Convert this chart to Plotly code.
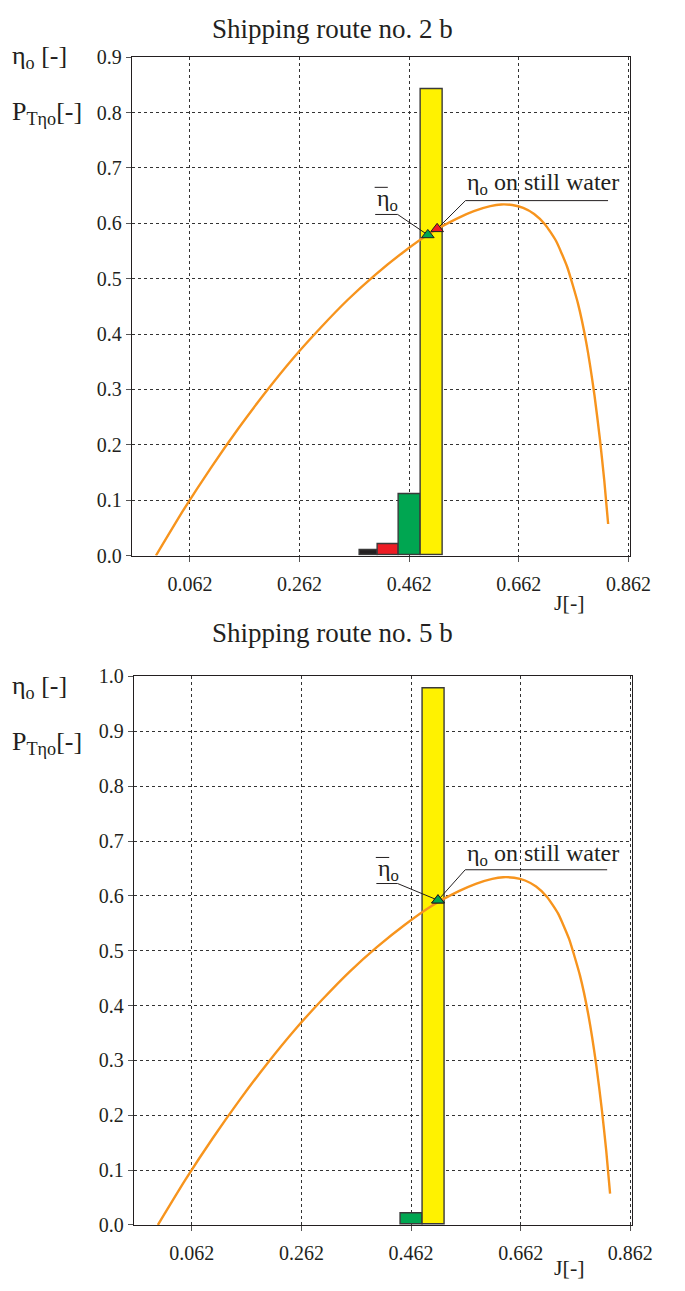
import plotly.graph_objects as go

# ---------------- data ----------------
J_curve = [0.0, 0.05, 0.10, 0.15, 0.20, 0.25, 0.30, 0.35, 0.40, 0.45, 0.50,
           0.55, 0.58, 0.61, 0.63, 0.65, 0.67, 0.69, 0.71, 0.73, 0.75,
           0.77, 0.785, 0.80, 0.81, 0.818, 0.825]
eta_curve = [0.0, 0.082, 0.158, 0.229, 0.295, 0.356, 0.411, 0.462, 0.507, 0.547, 0.582,
             0.609, 0.622, 0.631, 0.634, 0.633, 0.628, 0.617, 0.598, 0.568, 0.522,
             0.455, 0.385, 0.290, 0.210, 0.135, 0.057]

bin_edges = [0.372, 0.405, 0.444, 0.483, 0.524]
bar_colors = ["#231F20", "#ED1C24", "#00A651", "#FFF200"]
p_route2 = [0.009, 0.021, 0.110, 0.843]
p_route5 = [0.0, 0.0, 0.021, 0.978]

mean_route2 = (0.496, 0.579)
still_route2 = (0.513, 0.590)
mean_route5 = (0.511, 0.592)
still_route5 = (0.511, 0.592)

x_ticks = [0.062, 0.262, 0.462, 0.662, 0.862]
y_ticks2 = [0.0, 0.1, 0.2, 0.3, 0.4, 0.5, 0.6, 0.7, 0.8, 0.9]
y_ticks5 = [0.0, 0.1, 0.2, 0.3, 0.4, 0.5, 0.6, 0.7, 0.8, 0.9, 1.0]

titles = ["Shipping route no. 2 b", "Shipping route no. 5 b"]

# ---------------- figure ----------------
FONT = "Liberation Serif"
INK = "#231F20"
W, H = 685, 1291
fig = go.Figure()

centers = [(bin_edges[i] + bin_edges[i + 1]) / 2 for i in range(len(bin_edges) - 1)]
widths = [bin_edges[i + 1] - bin_edges[i] for i in range(len(bin_edges) - 1)]


def add_panel(xa, ya, probs, mean_pt, still_pt, leaders):
    xs = [c for c, p in zip(centers, probs) if p > 0]
    ws = [w for w, p in zip(widths, probs) if p > 0]
    cs = [c for c, p in zip(bar_colors, probs) if p > 0]
    ps = [p for p in probs if p > 0]
    fig.add_trace(go.Bar(x=xs, y=ps, width=ws, xaxis=xa, yaxis=ya,
                         marker=dict(color=cs, line=dict(color="#3a3a3a", width=1.4)),
                         showlegend=False, hoverinfo="skip"))
    fig.add_trace(go.Scatter(x=J_curve, y=eta_curve, xaxis=xa, yaxis=ya, mode="lines",
                             line=dict(color="#F7941D", width=2.4, shape="spline", smoothing=0.5),
                             showlegend=False, hoverinfo="skip"))
    (mx0, mx1, my), (sx0, sx1, sy) = leaders
    fig.add_trace(go.Scatter(x=[mx0, mx1, mean_pt[0]], y=[my, my, mean_pt[1]], xaxis=xa, yaxis=ya,
                             mode="lines", line=dict(color=INK, width=1),
                             showlegend=False, hoverinfo="skip"))
    fig.add_trace(go.Scatter(x=[sx1, sx0, still_pt[0]], y=[sy, sy, still_pt[1]], xaxis=xa, yaxis=ya,
                             mode="lines", line=dict(color=INK, width=1),
                             showlegend=False, hoverinfo="skip"))
    fig.add_trace(go.Scatter(x=[still_pt[0]], y=[still_pt[1]], xaxis=xa, yaxis=ya, mode="markers",
                             marker=dict(symbol="triangle-up", size=11, color="#ED1C24",
                                         line=dict(color=INK, width=1)),
                             showlegend=False, hoverinfo="skip"))
    fig.add_trace(go.Scatter(x=[mean_pt[0]], y=[mean_pt[1]], xaxis=xa, yaxis=ya, mode="markers",
                             marker=dict(symbol="triangle-up", size=11, color="#00A651",
                                         line=dict(color=INK, width=1)),
                             showlegend=False, hoverinfo="skip"))


add_panel("x", "y", p_route2, mean_route2, still_route2,
          ((0.400, 0.441, 0.616), (0.5647, 0.8248, 0.641)))
add_panel("x2", "y2", p_route5, mean_route5, still_route5,
          ((0.3986, 0.4373, 0.6225), (0.5607, 0.8197, 0.6476)))

axis_common = dict(showline=True, mirror=True, linecolor=INK, linewidth=1,
                   showgrid=True, gridcolor="#333", griddash="dot", gridwidth=1,
                   zeroline=False, ticks="outside", ticklen=5, tickcolor="#555",
                   tickfont=dict(family=FONT, size=20, color=INK))

xr = [-0.044, 0.865]
fig.update_layout(
    width=W, height=H, margin=dict(l=0, r=0, t=0, b=0),
    font=dict(family=FONT, color=INK),
    paper_bgcolor="white", plot_bgcolor="white", bargap=0,
    xaxis=dict(domain=[136 / W, 650 / W], range=xr, tickvals=x_ticks,
               ticktext=[f"{v:.3f}" for v in x_ticks], anchor="y",
               ticklabelstandoff=5, **axis_common),
    yaxis=dict(domain=[1 - 554 / H, 1 - 47 / H], range=[0, 0.9], tickvals=y_ticks2,
               ticktext=[f"{v:.1f}" for v in y_ticks2], anchor="x", **axis_common),
    xaxis2=dict(domain=[138 / W, 652 / W], range=xr, tickvals=x_ticks,
                ticktext=[f"{v:.3f}" for v in x_ticks], anchor="y2",
                ticklabelstandoff=5, **axis_common),
    yaxis2=dict(domain=[1 - 1235 / H, 1 - 677 / H], range=[0, 1.0], tickvals=y_ticks5,
                ticktext=[f"{v:.1f}" for v in y_ticks5], anchor="x2", **axis_common),
)

ann = []
txt = dict(family=FONT, size=24, color=INK)
lbl = dict(family=FONT, size=26, color=INK)
for title, ty in zip(titles, [18, 633]):
    ann.append(dict(text=title, x=343 / W, y=1 - ty / H, xref="paper", yref="paper",
                    showarrow=False, xanchor="center", yanchor="middle",
                    font=dict(family=FONT, size=27, color=INK)))
for jy in [602, 1278]:
    ann.append(dict(text="J[-]", x=588 / W, y=1 - jy / H, xref="paper", yref="paper",
                    showarrow=False, xanchor="center", yanchor="middle",
                    font=dict(family=FONT, size=22, color=INK)))
for y1, y2 in [(47, 104), (688, 745)]:
    ann.append(dict(text="η<sub>o</sub> [-]", x=10 / W, y=1 - y1 / H, xref="paper", yref="paper",
                    showarrow=False, xanchor="left", yanchor="middle", font=lbl))
    ann.append(dict(text="P<sub>Tηo</sub>[-]", x=10 / W, y=1 - y2 / H, xref="paper", yref="paper",
                    showarrow=False, xanchor="left", yanchor="middle", font=lbl))

shapes = []
for xa, ya, mx, my, bar, sx, sy in [("x", "y", 0.399, 0.643, (0.399, 0.423, 0.665), 0.5647, 0.671),
                                    ("x2", "y2", 0.3976, 0.6476, (0.3976, 0.422, 0.670), 0.5607, 0.6744)]:
    ann.append(dict(text="η<sub>o</sub>", x=mx, y=my, xref=xa, yref=ya, showarrow=False,
                    xanchor="left", yanchor="middle", font=txt))
    ann.append(dict(text="η<sub>o</sub> on still water", x=sx, y=sy, xref=xa, yref=ya,
                    showarrow=False, xanchor="left", yanchor="middle", font=txt))
    # overline of the mean symbol
    shapes.append(dict(type="line", xref=xa, yref=ya, x0=bar[0], x1=bar[1], y0=bar[2], y1=bar[2],
                       line=dict(color=INK, width=1)))
fig.update_layout(annotations=ann, shapes=shapes)

fig.write_html("out.html")
